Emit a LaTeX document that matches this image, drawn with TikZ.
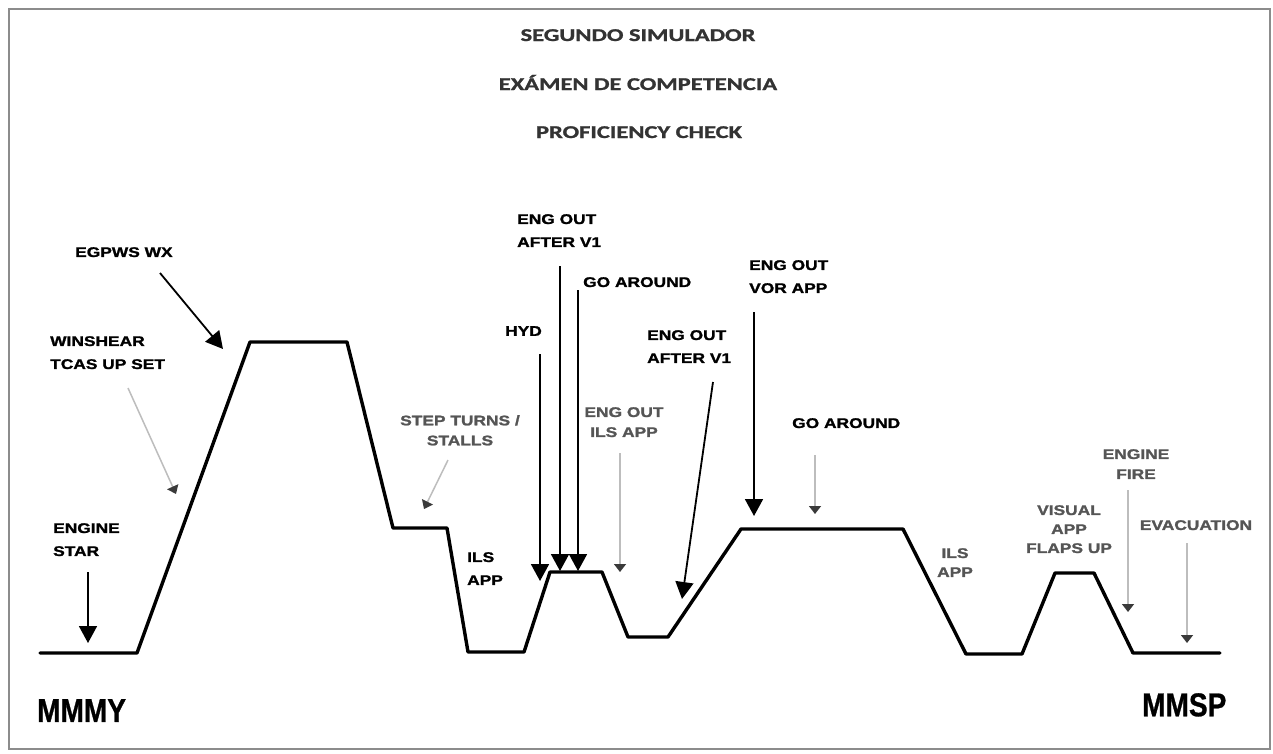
\documentclass[tikz,border=0pt]{standalone}
\usepackage{fontspec}
\setmainfont{Liberation Sans}
\newfontfamily\titfont[FakeStretch=1.36,FakeBold=1.2]{Carlito}
\newfontfamily\lblfont[FakeStretch=1.24,FakeBold=1.5]{Liberation Sans}
\newfontfamily\bigfont[FakeStretch=0.85,FakeBold=0.8]{Liberation Sans}
\usetikzlibrary{arrows.meta}
\definecolor{titgray}{HTML}{333333}
\definecolor{lblgray}{HTML}{555555}
\definecolor{linegray}{HTML}{BDBDBD}
\definecolor{tipgray}{HTML}{3A3A3A}
\definecolor{framegray}{HTML}{8C8C8C}
\begin{document}
\begin{tikzpicture}[x=1pt,y=-1pt,
  titletext/.style={font=\titfont\bfseries\fontsize{18}{20}\selectfont, text=titgray, inner sep=0pt, anchor=base},
  blk/.style={font=\lblfont\bfseries\fontsize{14}{23}\selectfont, inner sep=0pt, align=left, anchor=north west},
  gry/.style={font=\lblfont\bfseries\fontsize{14}{20}\selectfont, text=lblgray, inner sep=0pt, align=center, anchor=north},
  airport/.style={font=\bigfont\bfseries\fontsize{33}{36}\selectfont, inner sep=0pt, anchor=north west},
  profile/.style={line width=3.4pt, line join=round, line cap=round},
  bigarrow/.style={line width=1.8pt, -{Triangle[width=18pt,length=17pt]}},
  lightarrow/.style={line width=1.5pt, draw=linegray, -{Triangle[width=12pt,length=8pt,color=tipgray]}},
]
\useasboundingbox (0,0) rectangle (1273,753);
\fill[white] (0,0) rectangle (1273,753);
\draw[framegray, line width=2.5pt] (9,9) rectangle (1270,749);

% titles
\node[titletext] (t1) at (638,41) {SEGUNDO SIMULADOR};
\node[titletext] (t2) at (638,90) {EXÁMEN DE COMPETENCIA};
\node[titletext] (t3) at (639,138) {PROFICIENCY CHECK};

% flight profile
\draw[profile] (40,653) -- (137,653) -- (250,342) -- (347,342) -- (393,528) -- (447,528)
  -- (468,652) -- (524,652) -- (550,572) -- (602,572) -- (628,637) -- (668,637)
  -- (741,529) -- (903,529) -- (966,654) -- (1022,654) -- (1055,573) -- (1094,573)
  -- (1133,653) -- (1220,653);

% black labels
\node[blk] (egpws) at (75,247) {EGPWS WX};
\node[blk] (winsh) at (50,336) {WINSHEAR\\TCAS UP SET};
\node[blk] (estar) at (53,523) {ENGINE\\STAR};
\node[blk] (eoa1) at (517,214) {ENG OUT\\AFTER V1};
\node[blk] (ga1) at (583,277) {GO AROUND};
\node[blk] (hyd) at (505,326) {HYD};
\node[blk] (eoa2) at (647,330) {ENG OUT\\AFTER V1};
\node[blk] (vor) at (749,260) {ENG OUT\\VOR APP};
\node[blk] (ga2) at (792,418) {GO AROUND};
\node[blk] (ils1) at (467,552) {ILS\\APP};

% gray labels
\node[gry] (step) at (460,415) {STEP TURNS /\\STALLS};
\node[gry] (eoils) at (624,407) {ENG OUT\\ILS APP};
\node[gry, font=\lblfont\bfseries\fontsize{14}{19}\selectfont] (ils2) at (955,548) {ILS\\APP};
\node[gry, font=\lblfont\bfseries\fontsize{14}{19}\selectfont] (vis) at (1069,505) {VISUAL\\APP\\FLAPS UP};
\node[gry] (fire) at (1136,449) {ENGINE\\FIRE};
\node[gry] (evac) at (1196,520) {EVACUATION};

% airports
\node[airport] (mmmy) at (37,699) {MMMY};
\node[airport] (mmsp) at (1142,693) {MMSP};

% arrow end points
\coordinate (esS) at (88,572);   \coordinate (esE) at (88,643);
\coordinate (egS) at (160,273);  \coordinate (egE) at (223,349);
\coordinate (hyS) at (540,354);  \coordinate (hyE) at (540,581);
\coordinate (e1S) at (560,266);  \coordinate (e1E) at (560,571);
\coordinate (g1S) at (578,290);  \coordinate (g1E) at (578,571);
\coordinate (e2S) at (713,382);  \coordinate (e2E) at (682,599);
\coordinate (voS) at (754,312);  \coordinate (voE) at (754,516);
\coordinate (wiS) at (128,388);  \coordinate (wiE) at (176,494);
\coordinate (stS) at (448,460);  \coordinate (stE) at (424,509);
\coordinate (eiS) at (620,453);  \coordinate (eiE) at (620,572);
\coordinate (g2S) at (815,455);  \coordinate (g2E) at (815,514);
\coordinate (fiS) at (1128,490); \coordinate (fiE) at (1128,612);
\coordinate (evS) at (1187,543); \coordinate (evE) at (1187,643);

% black arrows
\draw[bigarrow] (esS) -- (esE);
\draw[bigarrow] (egS) -- (egE);
\draw[bigarrow] (hyS) -- (hyE);
\draw[bigarrow] (e1S) -- (e1E);
\draw[bigarrow] (g1S) -- (g1E);
\draw[bigarrow] (e2S) -- (e2E);
\draw[bigarrow] (voS) -- (voE);

% gray arrows
\draw[lightarrow] (wiS) -- (wiE);
\draw[lightarrow] (stS) -- (stE);
\draw[lightarrow] (eiS) -- (eiE);
\draw[lightarrow] (g2S) -- (g2E);
\draw[lightarrow] (fiS) -- (fiE);
\draw[lightarrow] (evS) -- (evE);
\end{tikzpicture}
\end{document}
